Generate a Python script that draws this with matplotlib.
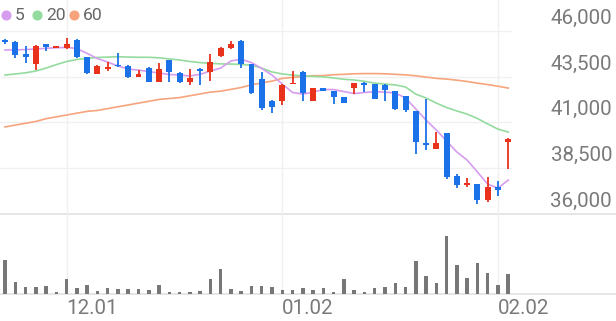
import matplotlib
matplotlib.use('Agg')
import matplotlib.pyplot as plt
from matplotlib.patches import Rectangle

# ---------------- data ----------------
opens = [45500, 45400, 44750, 44200, 45300, 45100, 45050, 45500, 44550, 43650,
         43950, 44150, 44100, 43450, 43950, 43200, 44400, 43700, 43200, 43900,
         43750, 44600, 45050, 45450, 44200, 43350, 42150, 42150, 43100, 43750,
         42150, 42850, 42700, 42400, 42900, 43150, 43100, 43050, 42700, 42450,
         41600, 39850, 39550, 40400, 38100, 37600, 37650, 36750, 37450, 39950]
highs = [45550, 45450, 45150, 45200, 45300, 45150, 45600, 45550, 44550, 44150,
         44300, 44800, 44150, 43850, 44000, 44250, 44400, 43750, 43900, 43950,
         44750, 45100, 45450, 45500, 44200, 43750, 42200, 43100, 43800, 43800,
         42850, 42900, 42700, 42400, 43150, 43200, 43100, 43100, 42700, 42450,
         41600, 42250, 40450, 40400, 38200, 37950, 37650, 38000, 37800, 40150]
lows = [45250, 44500, 44250, 43850, 44900, 45100, 45000, 44500, 43650, 43650,
        43800, 44000, 43400, 43450, 43200, 43200, 43200, 43150, 43050, 43050,
        43250, 44550, 45000, 43950, 42550, 41650, 41500, 41950, 43100, 42150,
        42150, 42700, 42000, 42050, 42550, 42650, 42250, 42150, 41700, 41550,
        39300, 39500, 39550, 37900, 37400, 37450, 36550, 36650, 37000, 38450]
closes = [45400, 44700, 44550, 45150, 45100, 45150, 45250, 44550, 43700, 44050,
          44000, 44050, 43450, 43650, 43200, 43900, 43750, 43200, 43400, 43800,
          44300, 45050, 45250, 44200, 42600, 41800, 41850, 43050, 43150, 42600,
          42850, 42700, 42400, 42050, 43150, 43050, 42250, 42750, 41750, 41650,
          39950, 39800, 39850, 38000, 37600, 37650, 36750, 37450, 37300, 40100]
ma5 = [44950, 44950, 44970, 45000, 45040, 45070, 45090, 45030, 44760, 44480,
       44290, 44070, 43910, 43850, 43770, 43690, 43610, 43580, 43530, 43620,
       43800, 43960, 44350, 44440, 44260, 43940, 43580, 43090, 42630, 42540,
       42650, 42790, 42790, 42680, 42570, 42630, 42670, 42650, 42600, 42330,
       41730, 41120, 40580, 39980, 39380, 38940, 38290, 37630, 37410, 37850]
ma20 = [43580, 43640, 43700, 43800, 43960, 44150, 44320, 44430, 44490, 44540,
        44560, 44580, 44560, 44550, 44550, 44520, 44460, 44400, 44320, 44260,
        44220, 44190, 44180, 44160, 44110, 43960, 43750, 43640, 43580, 43530,
        43510, 43480, 43420, 43350, 43310, 43240, 43140, 43090, 43040, 42930,
        42540, 42330, 42050, 41810, 41620, 41450, 41210, 40910, 40630, 40470]
ma60 = [40750, 40850, 40950, 41050, 41200, 41300, 41400, 41500, 41600, 41650,
        41750, 41850, 41950, 42050, 42150, 42250, 42300, 42350, 42450, 42550,
        42650, 42700, 42800, 42900, 43050, 43150, 43250, 43400, 43450, 43500,
        43550, 43550, 43600, 43620, 43650, 43660, 43660, 43650, 43620, 43590,
        43540, 43470, 43400, 43360, 43300, 43230, 43140, 43060, 42970, 42870]
volumes = [340, 123, 73, 73, 80, 17, 150, 57, 90, 30,
           63, 50, 50, 50, 40, 90, 23, 23, 23, 30,
           147, 247, 50, 30, 80, 80, 73, 40, 40, 57,
           40, 57, 23, 147, 40, 23, 63, 73, 107, 67,
           330, 183, 107, 583, 290, 157, 307, 207, 87, 197]
tick_idx = [6, 27, 48]
tick_labels = ['12.01', '01.02', '02.02']
y_ticks = [36000, 38500, 41000, 43500, 46000]
legend_labels = ['5', '20', '60']

# ---------------- style ----------------
RED = '#e8321c'
BLUE = '#1b72e8'
C5, C20, C60 = '#d69cf0', '#94db9e', '#f7a47d'
GRID = '#f0f0f0'
TXT = '#7a7a7a'
FONT = ['Roboto', 'DejaVu Sans']

W, H = 616, 321
fig = plt.figure(figsize=(W / 100, H / 100), dpi=100)
fig.patch.set_facecolor('white')

step = 10.27
x0 = 5.0
xmin = -x0 / step
xmax = (W - x0) / step
grid_end = (512 - x0) / step

px_per = 2500 / 45.825
ytop = 46000 + 30.7 * px_per

ax = fig.add_axes([0, 107 / H, 1, 214 / H])
axv = fig.add_axes([0, 27 / H, 1, 80 / H])
for a in (ax, axv):
    a.set_xlim(xmin, xmax)
    a.set_axis_off()
ax.set_ylim(36000, ytop)
axv.set_ylim(0, 800)

# grid
ax.hlines(y_ticks[1:], xmin, grid_end, color=GRID, lw=1.0, zorder=0)
ax.axhline(36000, color='#e4e4e4', lw=1.3, zorder=0, clip_on=False)
axv.axhline(0, color='#e4e4e4', lw=1.3, zorder=0, clip_on=False)
for t in tick_idx:
    ax.axvline(t, color=GRID, lw=1.0, zorder=0)
    axv.axvline(t, color=GRID, lw=1.0, zorder=0)

# MA lines
xs = list(range(len(closes)))
ax.plot(xs, ma60, color=C60, lw=1.2, zorder=2)
ax.plot(xs, ma20, color=C20, lw=1.2, zorder=2)
ax.plot(xs, ma5, color=C5, lw=1.2, zorder=2)

# candles
bw = 0.58
min_h = 1.6 * px_per
for i, (o, h, l, c) in enumerate(zip(opens, highs, lows, closes)):
    col = RED if c >= o else BLUE
    ax.vlines(i, l, h, color=col, lw=1.3, zorder=3)
    bot = min(o, c)
    hh = max(abs(c - o), min_h)
    if abs(c - o) < min_h:
        bot = (o + c) / 2 - hh / 2
    ax.add_patch(Rectangle((i - bw / 2, bot), bw, hh, facecolor=col,
                           edgecolor='none', zorder=4))

# volume
axv.bar(xs, volumes, width=0.34, color='#777777', zorder=2)

# y labels
for v in y_ticks:
    ax.annotate(f'{v:,}', xy=(1, v), xycoords=('axes fraction', 'data'),
                xytext=(-4, 12.5), textcoords='offset pixels', ha='right',
                va='center', fontsize=14.8, color=TXT, family=FONT,
                annotation_clip=False)

# x labels
for t, lbl in zip(tick_idx, tick_labels):
    axv.annotate(lbl, xy=(t, 0), xycoords='data', xytext=(0, -15),
                 textcoords='offset pixels', ha='left', va='center',
                 fontsize=14.8, color=TXT, family=FONT, annotation_clip=False)

# legend
dot_x = [5.8, 37.0, 73.7]
txt_x = [14.5, 46.0, 82.5]
ly = 1 - 15 / H
for lbl, col, dx, tx in zip(legend_labels, [C5, C20, C60], dot_x, txt_x):
    fig.add_artist(plt.Line2D([dx / W], [ly], marker='o', markersize=6.3,
                              color=col, transform=fig.transFigure))
    fig.text(tx / W, ly, lbl, ha='left', va='center', fontsize=12.6,
             color='#666666', family=FONT)

fig.savefig('out.png', dpi=100)
